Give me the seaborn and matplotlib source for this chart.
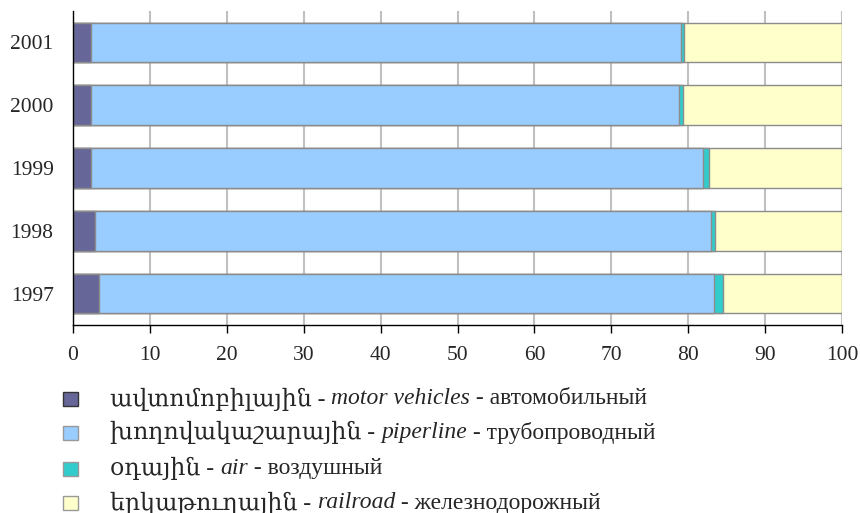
import seaborn as sns
import matplotlib.pyplot as plt
import pandas as pd
from matplotlib.patches import Rectangle

years = ['2001', '2000', '1999', '1998', '1997']
motor = [2.4, 2.4, 2.4, 2.9, 3.4]
pipeline = [76.6, 76.4, 79.5, 80.0, 80.0]
air = [0.5, 0.5, 0.8, 0.6, 1.1]
railroad = [20.5, 20.7, 17.3, 16.5, 15.5]

arm_names = ["ավտոմոբիլային", "խողովակաշարային", "օդային", "երկաթուղային"]
eng_names = ["motor vehicles", "piperline", "air", "railroad"]
rus_names = ["автомобильный", "трубопроводный", "воздушный", "железнодорожный"]
colors = ['#666699', '#99CCFF', '#33CCCC', '#FFFFCC']

sns.set_style('white')
fams = ['Liberation Serif', 'DejaVu Serif']
plt.rcParams['font.family'] = fams

df = pd.DataFrame({'year': years, 'motor': motor, 'pipeline': pipeline,
                   'air': air, 'railroad': railroad})
# cumulative ends, drawn from the longest so the shorter ones sit on top
cols = ['motor', 'pipeline', 'air', 'railroad']
cum = df[cols].cumsum(axis=1)

fig = plt.figure(figsize=(8.6, 5.13), dpi=100)
ax = fig.add_axes([73 / 860, 1 - 325 / 513, (842 - 73) / 860, 314 / 513])

for col, c in zip(cols[::-1], colors[::-1]):
    sns.barplot(x=cum[col], y=df['year'], order=years, orient='h', color=c,
                edgecolor='#8c8c8c', linewidth=1, width=0.63, ax=ax,
                saturation=1)

ax.set_xlim(0, 100)
ax.set_ylim(4.5, -0.5)
ax.set_xticks(range(0, 101, 10))
ax.grid(axis='x', color='#c0c0c0', linewidth=1.5)
ax.set_axisbelow(True)
ax.set_xlabel('')
ax.set_ylabel('')
for s in ['top', 'right']:
    ax.spines[s].set_visible(False)
for s in ['left', 'bottom']:
    ax.spines[s].set_color('black')
    ax.spines[s].set_linewidth(1)
ax.set_yticks([-0.5, 0.5, 1.5, 2.5, 3.5, 4.5], minor=True)
ax.tick_params(axis='y', which='major', length=0, pad=14, labelsize=15.5)
ax.tick_params(axis='y', which='minor', length=5, width=1, color='black', direction='out')
ax.tick_params(axis='x', length=6, width=1, color='black', direction='out', pad=9, labelsize=15.5)
ax.tick_params(left=True, bottom=True)

# legend: square + three text pieces (italic English in the middle)
renderer = fig.canvas.get_renderer()
row_y = [399, 432.5, 468.5, 503]
edge = ['#333333', '#999999', '#999999', '#999999']
for i in range(4):
    y = 1 - row_y[i] / 513
    fig.add_artist(Rectangle((63 / 860, y - 7 / 513), 15 / 860, 14 / 513,
                             transform=fig.transFigure, facecolor=colors[i],
                             edgecolor=edge[i], linewidth=1))
    x = 110 / 860
    pieces = [(arm_names[i] + ' - ', 'normal'), (eng_names[i], 'italic'),
              (' - ' + rus_names[i], 'normal')]
    for txt, st in pieces:
        t = fig.text(x, y, txt, fontsize=17, style=st, family=fams,
                     va='center', ha='left')
        bb = t.get_window_extent(renderer)
        x += bb.width / fig.bbox.width

fig.savefig('out.png', dpi=100)
